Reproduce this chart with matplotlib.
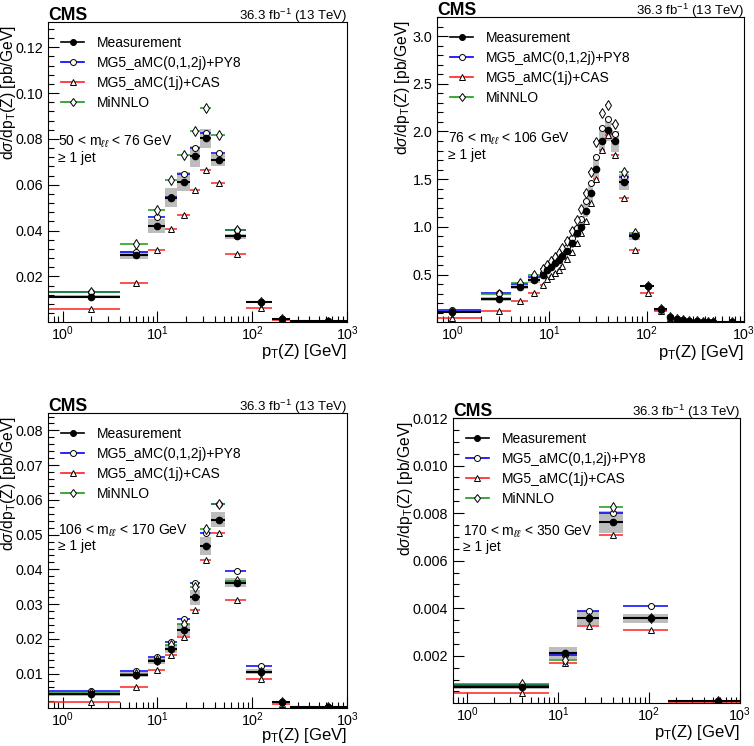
# CMS Z+jet pT(Z) differential cross sections in four m_ll bins
import numpy as np
import matplotlib
matplotlib.use('Agg')
import matplotlib.pyplot as plt
from matplotlib.lines import Line2D
from matplotlib.ticker import AutoMinorLocator, FormatStrFormatter, LogLocator, NullFormatter

plt.rcParams['font.family'] = ['Liberation Sans', 'DejaVu Sans']
plt.rcParams['mathtext.fontset'] = 'custom'
plt.rcParams['mathtext.rm'] = 'Liberation Sans'
plt.rcParams['mathtext.it'] = 'Liberation Sans:italic'

# ---- data ----
# 50 < mll < 76 GeV
edges1 = [0, 4, 8, 12, 16, 22, 28, 37, 52, 85, 160, 250, 1000]
meas1 = [0.0111, 0.0292, 0.0419, 0.0544, 0.0614, 0.0724, 0.0803, 0.0707, 0.0375, 0.0089, 0.0015, 0.0004]
syst1 = [0.0006, 0.0018, 0.0030, 0.0040, 0.0043, 0.0047, 0.0042, 0.0025, 0.0010, 0.0005, 0.0003, 0.0001]
mg1 = [0.0131, 0.0308, 0.0459, 0.0545, 0.0648, 0.0759, 0.0826, 0.0739, 0.0404, 0.0088, 0.0014, 0.0003]
cas1 = [0.0060, 0.0172, 0.0314, 0.0407, 0.0468, 0.0575, 0.0663, 0.0608, 0.0300, 0.0062, 0.0010, 0.0002]
mi1 = [0.0134, 0.0340, 0.0492, 0.0622, 0.0729, 0.0836, 0.0935, 0.0815, 0.0404, 0.0088, 0.0014, 0.0003]

# 76 < mll < 106 GeV
edges2 = [0, 2, 4, 6, 8, 9, 10, 11, 12, 13, 14, 16, 18, 20, 22, 25, 28, 32, 37, 43, 52, 65, 85,
          120, 160, 190, 220, 250, 300, 350, 400, 450, 500, 1000]
meas2 = [0.108, 0.248, 0.371, 0.44, 0.50, 0.545, 0.58, 0.62, 0.657, 0.70, 0.75, 0.83, 0.94, 1.0,
         1.17, 1.35, 1.61, 1.90, 2.02, 1.90, 1.47, 0.90, 0.38, 0.14, 0.06, 0.035, 0.025, 0.016,
         0.010, 0.007, 0.005, 0.0035, 0.001]
syst2 = [0.01, 0.02, 0.025, 0.03, 0.03, 0.033, 0.035, 0.037, 0.04, 0.042, 0.045, 0.05, 0.056, 0.063,
         0.07, 0.08, 0.1, 0.11, 0.12, 0.11, 0.08, 0.04, 0.015, 0.008, 0.004, 0.002, 0.0015, 0.001,
         0.0006, 0.0004, 0.0003, 0.0002, 0.0001]
mg2 = [0.133, 0.308, 0.406, 0.472, 0.52, 0.565, 0.60, 0.64, 0.68, 0.73, 0.79, 0.88, 0.99, 1.08,
       1.27, 1.46, 1.73, 2.04, 2.13, 1.97, 1.52, 0.92, 0.38, 0.13, 0.055, 0.032, 0.022, 0.014,
       0.009, 0.006, 0.0045, 0.003, 0.001]
cas2 = [0.046, 0.122, 0.22, 0.31, 0.395, 0.455, 0.49, 0.52, 0.55, 0.59, 0.66, 0.74, 0.83, 0.94,
        1.06, 1.25, 1.50, 1.81, 1.96, 1.75, 1.30, 0.76, 0.31, 0.115, 0.05, 0.03, 0.02, 0.013,
        0.008, 0.005, 0.004, 0.0025, 0.0008]
mi2 = [0.11, 0.30, 0.41, 0.50, 0.56, 0.60, 0.64, 0.68, 0.73, 0.78, 0.85, 0.96, 1.07, 1.19,
       1.36, 1.58, 1.89, 2.19, 2.28, 2.08, 1.58, 0.94, 0.38, 0.14, 0.06, 0.034, 0.024, 0.015,
       0.0095, 0.0065, 0.0048, 0.0033, 0.001]

# 106 < mll < 170 GeV
edges3 = [0, 4, 8, 12, 16, 22, 28, 37, 52, 85, 160, 250, 1000]
meas3 = [0.0040, 0.0097, 0.0136, 0.0171, 0.0226, 0.0320, 0.0467, 0.0543, 0.0361, 0.0105, 0.0019, 0.0005]
syst3 = [0.0005, 0.0007, 0.0009, 0.0012, 0.0017, 0.0022, 0.0026, 0.0021, 0.0013, 0.0007, 0.0002, 0.0001]
mg3 = [0.0050, 0.0108, 0.0147, 0.0191, 0.0256, 0.0360, 0.0505, 0.0587, 0.0396, 0.0121, 0.0018, 0.0004]
cas3 = [0.0019, 0.0060, 0.0111, 0.0154, 0.0204, 0.0282, 0.0427, 0.0506, 0.0312, 0.0083, 0.0012, 0.0003]
mi3 = [0.0043, 0.0100, 0.0140, 0.0181, 0.0242, 0.0349, 0.0517, 0.0588, 0.0367, 0.0104, 0.0018, 0.0004]

# 170 < mll < 350 GeV
edges4 = [0, 8, 16, 28, 52, 160, 1000]
meas4 = [0.00069, 0.00213, 0.00360, 0.00762, 0.00357, 0.00009]
syst4 = [0.00010, 0.00025, 0.00030, 0.00046, 0.00018, 0.00002]
stat4 = [0.00005, 0.00008, 0.00012, 0.00014, 0.00008, 0.00001]
mg4 = [0.00075, 0.00205, 0.00390, 0.00800, 0.00410, 0.00008]
cas4 = [0.00044, 0.00168, 0.00326, 0.00706, 0.00310, 0.00006]
mi4 = [0.00082, 0.00183, 0.00360, 0.00824, 0.00357, 0.00008]

labels = ['Measurement', 'MG5_aMC(0,1,2j)+PY8', 'MG5_aMC(1j)+CAS', 'MiNNLO']
colors = ['black', '#0000ff', '#ff2020', '#159a15']
markers = ['o', 'o', '^', 'd']


def draw_panel(ax, edges, meas, syst, mg, cas, mi, region, ymax, yfmt, nminor,
               ylab_x, xlab_y, stat=None):
    edges = np.array(edges, dtype=float)
    meas = np.array(meas)
    syst = np.array(syst)
    lo = np.maximum(edges[:-1], 0.5)  # pT=0 can't be drawn on a log axis
    hi = edges[1:]
    x = (edges[:-1] + edges[1:]) / 2
    # gray uncertainty boxes
    ax.bar(lo, 2 * syst, width=hi - lo, bottom=meas - syst, align='edge',
           color='#bdbdbd', lw=0, zorder=1)
    # predictions: coloured bin line + open marker
    for vals, c, m in zip([mg, cas, mi], colors[1:], markers[1:]):
        ax.hlines(vals, lo, hi, color=c, lw=1.1, zorder=2)
        ax.plot(x, vals, ls='none', marker=m, ms=4.3 if m != 'd' else 5.5, mfc='white',
                mec='black', mew=0.7, zorder=3)
    # measurement
    ax.hlines(meas, lo, hi, color='black', lw=1.5, zorder=4)
    if stat is not None:
        ax.errorbar(x, meas, yerr=stat, fmt='none', ecolor='black', elinewidth=1.5, zorder=4)
    ax.plot(x, meas, 'o', color='black', ms=4.5, zorder=5)

    ax.set_xscale('log')
    ax.set_xlim(0.7, 1000)
    ax.set_ylim(ymax * 0.001, ymax)
    ax.xaxis.set_major_locator(LogLocator(base=10, numticks=10))
    ax.xaxis.set_minor_locator(LogLocator(base=10, subs=np.arange(2, 10), numticks=20))
    ax.xaxis.set_minor_formatter(NullFormatter())
    ax.yaxis.set_major_formatter(FormatStrFormatter(yfmt))
    ax.yaxis.set_minor_locator(AutoMinorLocator(nminor))
    ax.tick_params(which='major', direction='in', length=8, labelsize=10.3, width=0.8)
    ax.tick_params(which='minor', direction='in', length=4, width=0.8)
    ax.tick_params(axis='x', which='major', pad=2)

    ax.set_xlabel(r'p$_{\mathrm{T}}$(Z) [GeV]', fontsize=12, ha='right', va='top')
    ax.xaxis.set_label_coords(1.0, xlab_y)
    ax.set_ylabel(r'd$\sigma$/dp$_{\mathrm{T}}$(Z) [pb/GeV]', fontsize=11.3, ha='right', va='bottom')
    ax.yaxis.set_label_coords(ylab_x, 0.99)

    # CMS label and lumi, baseline just above the frame
    h = ax.get_position().height * 746
    ax.text(0.0, 1 + 2.0 / h, 'CMS', transform=ax.transAxes, fontsize=12.7, fontweight='bold',
            ha='left', va='baseline')
    ax.text(1.0, 1 + 2.0 / h, r'36.3 fb$^{-1}$ (13 TeV)', transform=ax.transAxes, fontsize=9.5,
            ha='right', va='baseline')
    ax.text(0.035, 0.60, region, transform=ax.transAxes, fontsize=10, ha='left', va='center')
    ax.text(0.035, 0.548, '\u2265 1 jet', transform=ax.transAxes, fontsize=10, ha='left', va='center')

    handles = []
    for c, m in zip(colors, markers):
        fc = 'black' if c == 'black' else 'white'
        handles.append(Line2D([], [], color=c, lw=1.2, marker=m, ms=4.3, mfc=fc, mec='black', mew=0.7))
    ax.legend(handles, labels, loc='upper left', bbox_to_anchor=(0.01, 0.985), frameon=False,
              fontsize=10, handlelength=1.7, handletextpad=0.9, labelspacing=0.42, borderaxespad=0.3)


fig = plt.figure(figsize=(7.54, 7.46), dpi=100)
ax1 = fig.add_axes([0.0637, 0.5684, 0.3966, 0.4021])
ax2 = fig.add_axes([0.5796, 0.5684, 0.4072, 0.4088])
ax3 = fig.add_axes([0.0637, 0.0509, 0.3966, 0.3954])
ax4 = fig.add_axes([0.6008, 0.0576, 0.3806, 0.3820])

draw_panel(ax1, edges1, meas1, syst1, mg1, cas1, mi1, r'50 < m$_{\ell\ell}$ < 76 GeV',
           0.131, '%.2f', 5, -0.102, -0.068)
draw_panel(ax2, edges2, meas2, syst2, mg2, cas2, mi2, r'76 < m$_{\ell\ell}$ < 106 GeV',
           3.2, '%.1f', 5, -0.081, -0.068)
draw_panel(ax3, edges3, meas3, syst3, mg3, cas3, mi3, r'106 < m$_{\ell\ell}$ < 170 GeV',
           0.085, '%.2f', 5, -0.102, -0.062)
draw_panel(ax4, edges4, meas4, syst4, mg4, cas4, mi4, r'170 < m$_{\ell\ell}$ < 350 GeV',
           0.012, '%.3f', 4, -0.132, -0.07, stat=stat4)

fig.savefig('out.png', dpi=100)
